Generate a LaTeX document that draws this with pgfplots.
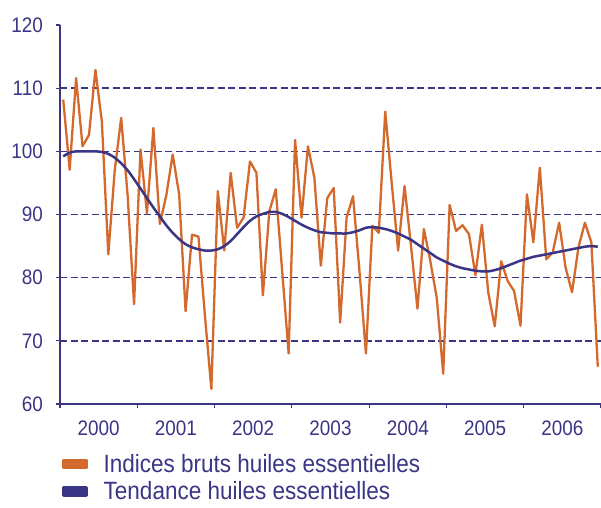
\documentclass[border=0pt]{standalone}
\usepackage{fontspec}
\setmainfont{Liberation Sans}[FakeStretch=0.9]
\usepackage{pgfplots}
\usepackage{pgfplotstable}
\pgfplotsset{compat=1.18}
\definecolor{navy}{HTML}{3A3585}
\definecolor{rust}{HTML}{D4692E}

\pgfplotstableread{
x raw trend
0.5 108.2 99.2
1.5 97.1 99.8
2.5 111.6 100.0
3.5 100.8 100.0
4.5 102.6 100.0
5.5 112.9 100.0
6.5 104.7 99.9
7.5 83.7 99.6
8.5 97.0 99.0
9.5 105.3 98.1
10.5 93.0 97.0
11.5 75.8 95.6
12.5 100.3 94.1
13.5 90.2 92.6
14.5 103.7 91.1
15.5 88.5 89.7
16.5 93.0 88.3
17.5 99.5 87.1
18.5 93.2 86.1
19.5 74.7 85.3
20.5 86.8 84.8
21.5 86.5 84.5
22.5 74.0 84.3
23.5 62.4 84.3
24.5 93.7 84.5
25.5 84.3 85.0
26.5 96.6 85.8
27.5 87.9 86.9
28.5 89.5 88.0
29.5 98.4 89.0
30.5 96.6 89.7
31.5 77.2 90.1
32.5 90.5 90.4
33.5 94.0 90.4
34.5 81.0 90.1
35.5 68.0 89.6
36.5 101.8 89.0
37.5 89.5 88.4
38.5 100.8 87.9
39.5 95.8 87.5
40.5 81.9 87.2
41.5 92.6 87.1
42.5 94.2 87.0
43.5 72.9 87.0
44.5 89.5 87.0
45.5 92.9 87.2
46.5 81.0 87.5
47.5 68.0 87.9
48.5 88.2 88.0
49.5 87.1 87.9
50.5 106.3 87.7
51.5 95.0 87.4
52.5 84.3 87.0
53.5 94.5 86.5
54.5 85.0 86.0
55.5 75.1 85.3
56.5 87.7 84.6
57.5 82.6 83.9
58.5 76.8 83.2
59.5 64.8 82.7
60.5 91.5 82.2
61.5 87.4 81.8
62.5 88.3 81.5
63.5 86.9 81.3
64.5 80.4 81.1
65.5 88.4 81.0
66.5 77.6 81.0
67.5 72.3 81.2
68.5 82.6 81.5
69.5 79.5 81.9
70.5 77.9 82.3
71.5 72.4 82.7
72.5 93.2 83.0
73.5 85.6 83.3
74.5 97.4 83.5
75.5 82.9 83.7
76.5 84.0 83.9
77.5 88.7 84.1
78.5 81.6 84.3
79.5 77.7 84.5
80.5 84.8 84.7
81.5 88.7 84.9
82.5 85.6 85.0
83.5 65.9 84.9
}\datatable

\begin{document}
\begin{tikzpicture}
\useasboundingbox (-60pt,-103pt) rectangle (541pt,404pt);
\begin{axis}[
  at={(0pt,0pt)}, anchor=south west,
  scale only axis, width=541pt, height=379pt,
  xmin=0, xmax=84, ymin=60, ymax=120,
  /pgf/number format/assume math mode=true,
  axis x line*=bottom, axis y line*=left,
  axis line style={navy, line width=1.2pt, -},
  tick style={navy, line width=1.2pt},
  tick align=outside,
  major tick length=4pt,
  xtick={0,12,...,84},
  xticklabels={},
  extra x ticks={6,18,30,42,54,66,78},
  extra x tick labels={2000,2001,2002,2003,2004,2005,2006},
  extra x tick style={major tick length=0pt, xticklabel style={anchor=center, yshift=-24pt}},
  ytick={60,70,...,120},
  extra y ticks={70,80,90,100,110},
  extra y tick labels={},
  extra y tick style={grid=major, major tick length=0pt},
  major grid style={navy, line width=1.4pt, dash pattern=on 7pt off 3.5pt},
  ticklabel style={font=\fontsize{21}{21}\selectfont, text=navy},
  yticklabel style={anchor=east, inner sep=0pt, xshift=-13pt},
  clip=false,
  legend style={at={(axis description cs:0,0)}, anchor=north west,
    xshift=-1pt, yshift=-48pt, draw=none, fill=none,
    font=\fontsize{25}{25}\selectfont, text=navy,
    nodes={inner sep=0pt}, row sep=8pt},
  legend cell align=left,
  legend image code/.code={\fill[#1] (0pt,-4pt) rectangle (23pt,4pt); \path (39pt,0pt);},
]
\addplot[rust, line width=2.3pt, line join=round] table[x=x, y=raw] {\datatable};
\addlegendentry{Indices bruts huiles essentielles}
\addplot[navy, line width=2.5pt, line join=round, smooth] table[x=x, y=trend] {\datatable};
\addlegendentry{Tendance huiles essentielles}
\end{axis}
\end{tikzpicture}
\end{document}
